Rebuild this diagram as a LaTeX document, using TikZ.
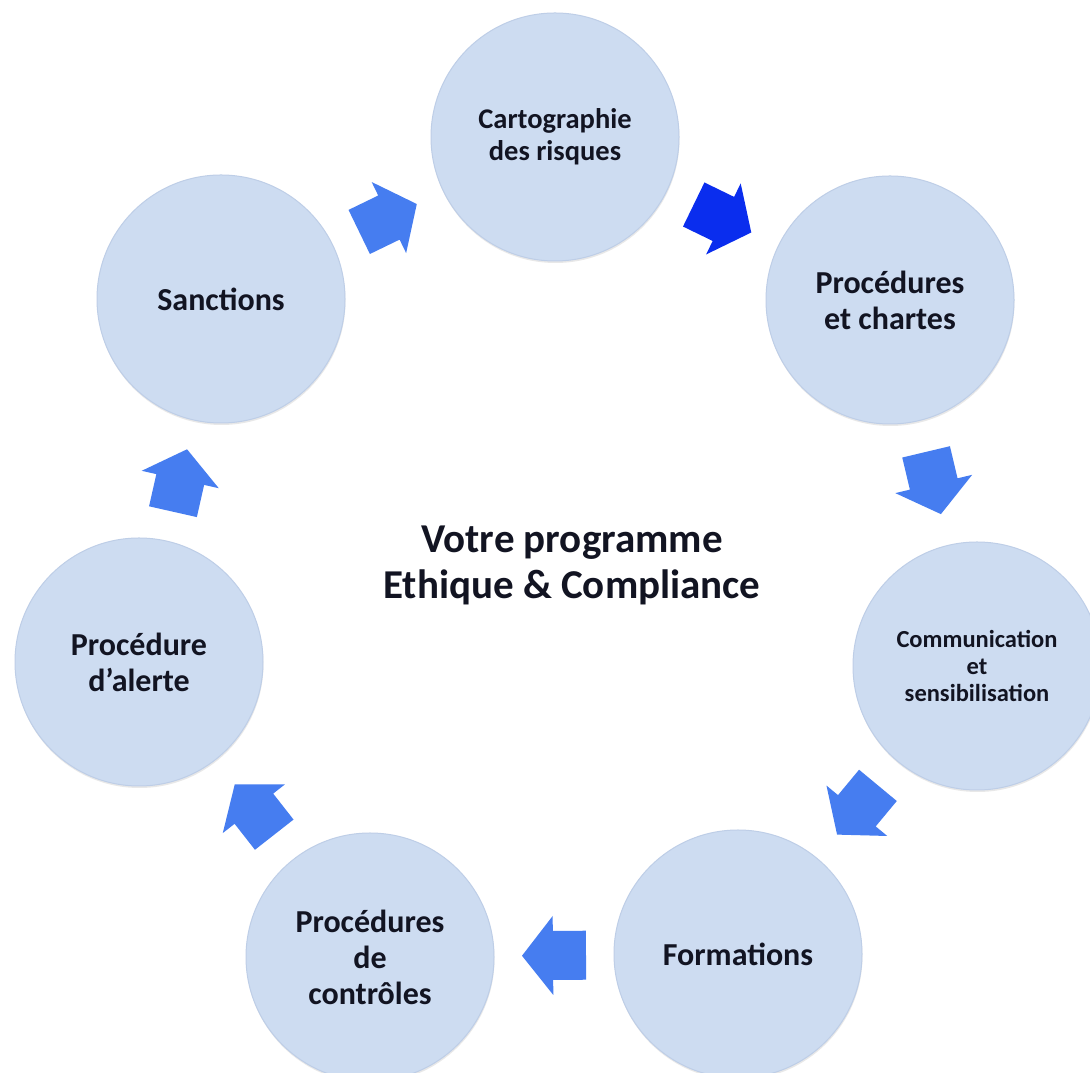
\documentclass[tikz,border=0pt]{standalone}
\usepackage{fontspec}
\setmainfont{Carlito}
\usetikzlibrary{calc,shadows}
\definecolor{circfill}{RGB}{205,220,241}
\definecolor{circedge}{RGB}{190,206,231}
\definecolor{arrblue}{RGB}{70,125,240}
\definecolor{arrdark}{RGB}{10,45,238}
\definecolor{txtcol}{RGB}{18,20,34}
\tikzset{
  stepcircle/.style={circle, fill=circfill, draw=circedge, line width=1pt,
    minimum size=248pt, inner sep=0pt, align=center, text=txtcol,
    font=\bfseries\fontsize{32}{36}\selectfont,
    drop shadow={shadow xshift=0.5pt, shadow yshift=-2pt, opacity=0.15, fill=black!60}},
  titletext/.style={align=center, text=txtcol, font=\bfseries\fontsize{41}{46}\selectfont},
}
\newcommand\blockarr[3]{%
  \fill[#3] let \p1=($(#2)-(#1)$), \n1={atan2(\y1,\x1)} in
    ($(#1)!0.5!(#2)$) ++(\n1:32pt) -- ++(\n1+128.13:50.2pt) -- ++(\n1-90:15pt)
    -- ++(\n1+180:33pt) -- ++(\n1-90:49pt) -- ++(\n1:33pt) -- ++(\n1-90:15pt) -- cycle;
}
\begin{document}
\begin{tikzpicture}[x=1pt,y=1pt]
\useasboundingbox (0,0) rectangle (1090,1073);
\fill[white] (0,0) rectangle (1090,1073);
\clip (0,0) rectangle (1090,1073);
\node[stepcircle, font=\bfseries\fontsize{28.5}{32}\selectfont] (cart) at (555,936) {Cartographie\\des risques};
\node[stepcircle] (proc) at (890,773) {Procédures\\et chartes};
\node[stepcircle, font=\bfseries\fontsize{24.5}{27}\selectfont] (comm) at (977,407) {Communication\\et\\sensibilisation};
\node[stepcircle] (form) at (738,119) {Formations};
\node[stepcircle] (ctrl) at (370,116) {Procédures\\de\\contrôles};
\node[stepcircle] (alert) at (139,411) {Procédure\\d’alerte};
\node[stepcircle] (sanc) at (221,774) {Sanctions};
\node[titletext] (title) at (572,508) {Votre programme\\Ethique \& Compliance};
\blockarr{sanc}{cart}{arrblue}
\blockarr{cart}{proc}{arrdark}
\blockarr{proc}{comm}{arrblue}
\blockarr{comm}{form}{arrblue}
\blockarr{form}{ctrl}{arrblue}
\blockarr{ctrl}{alert}{arrblue}
\blockarr{alert}{sanc}{arrblue}
\end{tikzpicture}
\end{document}
